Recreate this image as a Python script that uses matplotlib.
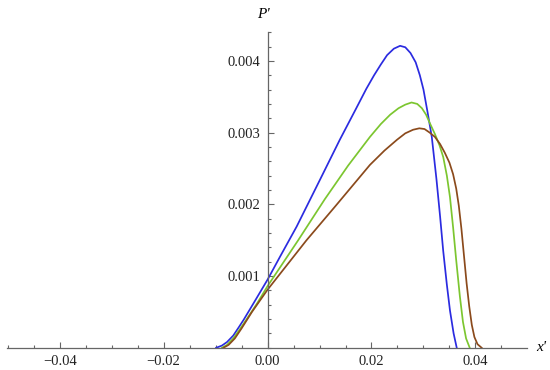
"""
P' against x' for three cases, Mathematica-style axes through the origin
"""
import matplotlib
matplotlib.use("Agg")
import matplotlib.pyplot as plt
from matplotlib.ticker import MultipleLocator, FixedLocator

# blue curve
x_blue = [-0.0099, -0.0088, -0.0078, -0.0066, -0.0055, -0.0046, -0.0027, 0.0,
          0.0024, 0.0056, 0.0100, 0.0139, 0.0170, 0.0190, 0.0205, 0.0218,
          0.0230, 0.0243, 0.0255, 0.0265, 0.0275, 0.0285, 0.0293, 0.0300,
          0.0308, 0.0316, 0.0325, 0.0332, 0.0338, 0.0345, 0.0351, 0.0358,
          0.0364]
p_blue = [0.0, 0.00003, 0.00008, 0.00017, 0.00029, 0.00039, 0.00062, 0.00095,
          0.00127, 0.00169, 0.00233, 0.00290, 0.00333, 0.00361, 0.00380, 0.00395,
          0.00408, 0.00417, 0.00421, 0.00419, 0.00411, 0.00398, 0.00380, 0.00360,
          0.00328, 0.00294, 0.00235, 0.00183, 0.00135, 0.00088, 0.00052, 0.00020,
          0.0]

# green curve
x_green = [-0.0088, -0.0078, -0.0066, -0.0055, -0.0040, -0.0020, 0.0, 0.0059,
           0.0110, 0.0155, 0.0197, 0.0218, 0.0236, 0.0252, 0.0265, 0.0277,
           0.0288, 0.0297, 0.0305, 0.0313, 0.0322, 0.0331, 0.0338, 0.0345,
           0.0351, 0.0357, 0.0363, 0.0370, 0.0376, 0.0382, 0.0389]
p_green = [0.0, 0.00004, 0.00013, 0.00024, 0.00040, 0.00062, 0.00086, 0.00150,
           0.00207, 0.00254, 0.00294, 0.00312, 0.00325, 0.00334, 0.00339, 0.00342,
           0.00340, 0.00334, 0.00325, 0.00312, 0.00298, 0.00282, 0.00266, 0.00240,
           0.00210, 0.00168, 0.00122, 0.00072, 0.00036, 0.00013, 0.0]

# brown curve
x_brown = [-0.0085, -0.0075, -0.0063, -0.0050, -0.0030, 0.0, 0.0075, 0.0130,
           0.0197, 0.0225, 0.0249, 0.0265, 0.0280, 0.0292, 0.0302, 0.0312,
           0.0322, 0.0332, 0.0341, 0.0350, 0.0357, 0.0363, 0.0368, 0.0373,
           0.0378, 0.0383, 0.0388, 0.0393, 0.0398, 0.0404, 0.0412]
p_brown = [0.0, 0.00004, 0.00013, 0.00027, 0.00050, 0.00081, 0.00150, 0.00197,
           0.00255, 0.00275, 0.00290, 0.00299, 0.00304, 0.00306, 0.00305, 0.00300,
           0.00294, 0.00284, 0.00272, 0.00258, 0.00242, 0.00222, 0.00198, 0.00166,
           0.00128, 0.00090, 0.00058, 0.00032, 0.00015, 0.00005, 0.0]

x_ticks = [-0.04, -0.02, 0.0, 0.02, 0.04]
x_labels = ["\u22120.04", "\u22120.02", "0.00", "0.02", "0.04"]
y_ticks = [0.001, 0.002, 0.003, 0.004]
y_labels = ["0.001", "0.002", "0.003", "0.004"]

axis_grey = "#666666"
serif = ["Liberation Serif", "DejaVu Serif"]

fig = plt.figure(figsize=(5.5, 3.7), dpi=100)
ax = fig.add_axes([0.013, 0.06, 0.945, 0.853])

ax.plot(x_blue, p_blue, color="#2b2be0", lw=1.25, solid_joinstyle="round")
ax.plot(x_green, p_green, color="#7cc630", lw=1.25, solid_joinstyle="round")
ax.plot(x_brown, p_brown, color="#8b4a1c", lw=1.25, solid_joinstyle="round")

ax.set_xlim(-0.0501, 0.0499)
ax.set_ylim(0, 0.0044)

# axes through the origin
for side in ("top", "right"):
    ax.spines[side].set_visible(False)
ax.spines["left"].set_position(("data", 0))
ax.spines["bottom"].set_position(("data", 0))
for side in ("left", "bottom"):
    ax.spines[side].set_color(axis_grey)
    ax.spines[side].set_linewidth(0.9)

ax.xaxis.set_major_locator(FixedLocator(x_ticks))
ax.xaxis.set_minor_locator(MultipleLocator(0.005))
ax.yaxis.set_major_locator(FixedLocator(y_ticks))
ax.yaxis.set_minor_locator(MultipleLocator(0.0002))
ax.set_xticklabels(x_labels)
ax.set_yticklabels(y_labels)

ax.tick_params(which="both", direction="in", color=axis_grey, width=0.8)
ax.tick_params(which="major", length=4.5, labelsize=10.5, pad=5)
ax.tick_params(which="minor", length=2.5)
for lab in ax.get_xticklabels() + ax.get_yticklabels():
    lab.set_family(serif)
    lab.set_color("#222222")

ax.text(0.0516, 0.0, "x'", fontsize=11, style="italic", family=serif,
        ha="left", va="center", clip_on=False)
ax.text(-0.0008, 0.00465, "P'", fontsize=11, style="italic", family=serif,
        ha="center", va="center", clip_on=False)

fig.savefig("out.png", dpi=100)
